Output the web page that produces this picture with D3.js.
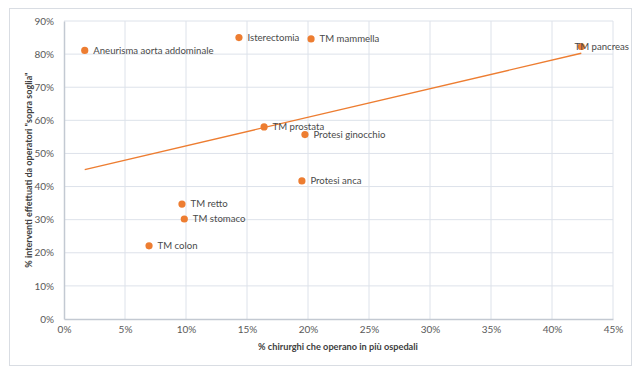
<!DOCTYPE html>
<html>
<head>
<meta charset="utf-8">
<script src="https://cdn.jsdelivr.net/npm/d3@7"></script>
<style>
  body { margin: 0; background: #fff; }
  svg text { font-family: Lato, "Open Sans", sans-serif; }
</style>
</head>
<body>
<div id="chart"></div>
<script>
// Chart data
const procedures = ["Aneurisma aorta addominale", "Isterectomia", "TM mammella", "TM prostata",
  "Protesi ginocchio", "Protesi anca", "TM pancreas", "TM retto", "TM stomaco", "TM colon"];
const multiHospital = [1.7, 14.34, 20.25, 16.4, 19.75, 19.5, 42.4, 9.67, 9.86, 6.97];
const aboveThreshold = [81.1, 85.0, 84.6, 58.0, 55.7, 41.7, 82.3, 34.7, 30.2, 22.1];
const xTicks = [0, 5, 10, 15, 20, 25, 30, 35, 40, 45];
const yTicks = [0, 10, 20, 30, 40, 50, 60, 70, 80, 90];

document.addEventListener('DOMContentLoaded', function() {
  const width = 642, height = 375;
  const left = 64, right = 613, top = 21, bottom = 319;
  const orange = "#ED7D31";

  const svg = d3.select("#chart").append("svg")
    .attr("width", width).attr("height", height);

  // outer chart border
  svg.append("rect")
    .attr("x", 9.5).attr("y", 8.5).attr("width", 622).attr("height", 357)
    .attr("fill", "#fff").attr("stroke", "#d9dde3");

  const x = d3.scaleLinear().domain([0, 45]).range([left, right]);
  const y = d3.scaleLinear().domain([0, 90]).range([bottom, top]);

  // gridlines
  svg.append("g").selectAll("line").data(xTicks.slice(1)).enter().append("line")
    .attr("x1", d => x(d)).attr("x2", d => x(d)).attr("y1", top).attr("y2", bottom)
    .attr("stroke", "#dde2ea").attr("stroke-width", 1);
  svg.append("g").selectAll("line").data(yTicks.slice(1)).enter().append("line")
    .attr("x1", left).attr("x2", right).attr("y1", d => y(d)).attr("y2", d => y(d))
    .attr("stroke", "#dde2ea").attr("stroke-width", 1);

  // axes
  const xAxis = svg.append("g").attr("transform", `translate(0,${bottom})`)
    .call(d3.axisBottom(x).tickValues(xTicks).tickSize(0).tickFormat(d => d + "%").tickPadding(7));
  const yAxis = svg.append("g").attr("transform", `translate(${left},0)`)
    .call(d3.axisLeft(y).tickValues(yTicks).tickSize(0).tickFormat(d => d + "%").tickPadding(10));
  [xAxis, yAxis].forEach(a => {
    a.select(".domain").attr("stroke", "#c3c9d2").attr("stroke-width", 1.5);
    a.selectAll("text").attr("fill", "#595959").style("font-size", "10px");
  });

  // linear trend line (least squares)
  const n = multiHospital.length;
  const mx = d3.mean(multiHospital), my = d3.mean(aboveThreshold);
  let sxy = 0, sxx = 0;
  for (let i = 0; i < n; i++) {
    sxy += (multiHospital[i] - mx) * (aboveThreshold[i] - my);
    sxx += (multiHospital[i] - mx) ** 2;
  }
  const slope = sxy / sxx, intercept = my - slope * mx;
  const [x0, x1] = d3.extent(multiHospital);
  svg.append("line")
    .attr("x1", x(x0)).attr("y1", y(intercept + slope * x0))
    .attr("x2", x(x1)).attr("y2", y(intercept + slope * x1))
    .attr("stroke", orange).attr("stroke-width", 1.3);

  // points and labels
  const pts = procedures.map((p, i) => ({ name: p, vx: multiHospital[i], vy: aboveThreshold[i] }));
  svg.append("g").selectAll("circle").data(pts).enter().append("circle")
    .attr("cx", d => x(d.vx)).attr("cy", d => y(d.vy)).attr("r", 3.6)
    .attr("fill", orange);

  svg.append("g").selectAll("text").data(pts).enter().append("text")
    .attr("y", d => y(d.vy))
    .attr("dy", "0.35em")
    .attr("fill", "#4a4a4a")
    .style("font-size", "9.6px")
    .text(d => d.name)
    .attr("x", function(d) {
      const w = this.getComputedTextLength();
      return Math.min(x(d.vx) + 8.5, 629 - w);
    });

  // axis titles
  svg.append("text")
    .attr("x", 338).attr("y", 350)
    .attr("text-anchor", "middle").attr("fill", "#404040")
    .style("font-size", "9.2px").style("font-weight", "bold")
    .text("% chirurghi che operano in più ospedali");
  svg.append("text")
    .attr("transform", `translate(32,${(top + bottom) / 2}) rotate(-90)`)
    .attr("text-anchor", "middle").attr("fill", "#404040")
    .style("font-size", "9px").style("font-weight", "bold")
    .text('% interventi effettuati da operatori "sopra soglia"');
});
</script>
</body>
</html>
